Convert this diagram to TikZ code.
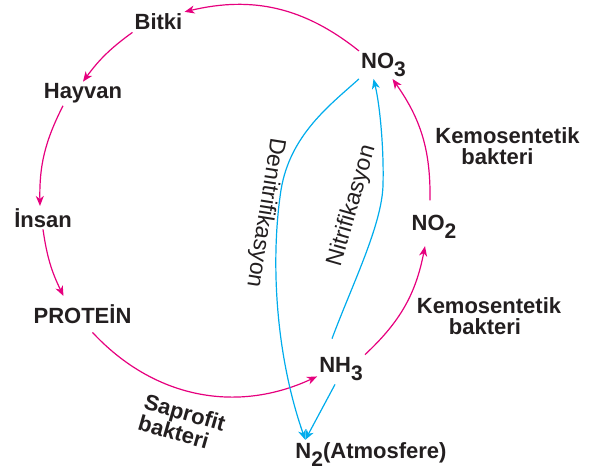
\documentclass[tikz,border=0pt]{standalone}
\usepackage{fontspec}
\setmainfont{Liberation Sans}
\usetikzlibrary{arrows.meta}
\definecolor{cyclemag}{RGB}{230,0,126}
\definecolor{flowcyan}{RGB}{0,172,236}
\definecolor{ink}{RGB}{35,31,32}
% lowered, nearly full-size chemical index
\newcommand{\chemsub}[1]{\raisebox{-8pt}{\fontsize{21}{21}\selectfont #1}}

\begin{document}
\begin{tikzpicture}[x=1pt,y=-1pt,
  term/.style={font=\fontsize{22}{21.5}\selectfont\bfseries, text=ink, inner sep=2pt, anchor=base},
  note/.style={font=\fontsize{22}{21.5}\selectfont\bfseries, text=ink, inner sep=0pt, align=center},
  turned/.style={font=\fontsize{23}{23}\selectfont, text=ink, inner sep=0pt},
  tip/.style={-{Stealth[length=10pt,width=8pt,inset=3pt]}},
  magarrow/.style={tip, draw=cyclemag, fill=none, line width=1.2pt},
  cyanarrow/.style={tip, draw=flowcyan, fill=none, line width=1.2pt}
]
\useasboundingbox (0,0) rectangle (597,476);

% stations of the cycle
\node[term] (Bitki)   at (158.5,30)  {Bitki};
\node[term] (Hayvan)  at (83,99)     {Hayvan};
\node[term] (Insan)   at (43,227)    {İnsan};
\node[term] (Protein) at (82.5,323)  {PROTEİN};
\node[term] (NO3)     at (383.5,68.5){NO\chemsub{3}};
\node[term] (NO2)     at (434,230)   {NO\chemsub{2}};
\node[term] (NH3)     at (341,372)   {NH\chemsub{3}};
\node[term] (N2)      at (371,458)   {N\chemsub{2}(Atmosfere)};

% process labels
\node[note] (kemoTop) at (507.5,146) {Kemosentetik\\\hspace*{-20pt}bakteri};
\node[note] (kemoBot) at (489,316)   {Kemosentetik\\\hspace*{-8pt}bakteri};
\node[note, align=left, rotate=-16] (sapro) at (182,423) {Saprofit\\bakteri};
\node[turned, rotate=-99] (denit) at (265,213) {Denitrifikasyon};
\node[turned, rotate=74]  (nitr)  at (352,206) {Nitrifikasyon};

% magenta cycle around the circle
\draw[magarrow] (NO3.north west) to[bend right=26] (Bitki.north east);
\draw[magarrow] (Bitki.south west) to[bend right=9] (Hayvan.north);
\draw[magarrow] ([xshift=-20pt]Hayvan.south) to[bend right=14] ([xshift=-3pt]Insan.north);
\draw[magarrow] (Insan.south) to[bend right=9] ([shift={(-19pt,6pt)}]Protein.north);
\draw[magarrow] ([shift={(10pt,-7pt)}]Protein.south) to[bend right=36] ([yshift=6pt]NH3.south west);
\draw[magarrow] (NH3.north east) to[bend right=18] ([shift={(-9pt,-6pt)}]NO2.south);
\draw[magarrow] ([shift={(-4pt,12pt)}]NO2.north) to[bend right=18] ([xshift=9pt]NO3.south);

% cyan nitrogen flows
\draw[cyanarrow] (NO3.south west)
  .. controls (330,105) and (290,135) .. (281,190)
  .. controls (271,255) and (274,350) .. ([xshift=12pt]N2.north west);
\draw[cyanarrow] ([shift={(-9pt,16pt)}]NH3.north)
  .. controls (352,285) and (382,225) .. (383,185)
  .. controls (384,150) and (380,105) .. ([xshift=-10pt]NO3.south);
\draw[cyanarrow] ([shift={(-6pt,-2pt)}]NH3.south) -- ([xshift=12pt]N2.north west);
\end{tikzpicture}
\end{document}
